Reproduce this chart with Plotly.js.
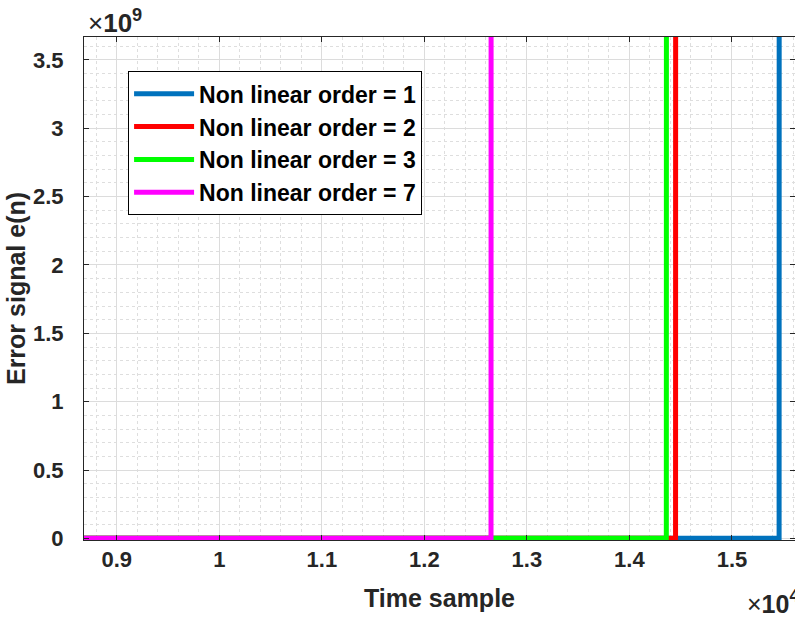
<!DOCTYPE html>
<html>
<head>
<meta charset="utf-8">
<script src="https://cdn.plot.ly/plotly-3.0.1.min.js"></script>
<style>html,body{margin:0;padding:0;background:#fff;}#chart{width:795px;height:621px;}</style>
</head>
<body>
<div id="chart"></div>
<script>
// Data (time sample, error signal)
const seriesNames = ['Non linear order = 1', 'Non linear order = 2', 'Non linear order = 3', 'Non linear order = 7'];
const seriesColors = ['#0072BD', '#FF0000', '#00FF00', '#FF00FF'];
const order1Samples = [1, 15460, 15461];
const order1Error = [0, 0, 5e9];
const order2Samples = [1, 14450, 14451];
const order2Error = [0, 0, 5e9];
const order3Samples = [1, 14360, 14361];
const order3Error = [0, 0, 5e9];
const order7Samples = [1, 12650, 12651];
const order7Error = [0, 0, 5e9];
const xTickVals = [9000, 10000, 11000, 12000, 13000, 14000, 15000];
const xTickText = ['0.9', '1', '1.1', '1.2', '1.3', '1.4', '1.5'];
const yTickVals = [0, 0.5e9, 1e9, 1.5e9, 2e9, 2.5e9, 3e9, 3.5e9];
const yTickText = ['0', '0.5', '1', '1.5', '2', '2.5', '3', '3.5'];

const xs = [order1Samples, order2Samples, order3Samples, order7Samples];
const ys = [order1Error, order2Error, order3Error, order7Error];

const traces = xs.map((x, i) => ({
  x: x, y: ys[i], type: 'scatter', mode: 'lines', name: seriesNames[i],
  line: {color: seriesColors[i], width: 5, shape: 'linear'}
}));

const FAM = 'Liberation Sans, Arial, sans-serif';
const axisColor = '#262626';
const tickFont = {family: FAM, size: 22, color: axisColor, weight: 'bold'};

const layout = {
  width: 795, height: 621,
  margin: {l: 84, r: 0, t: 37, b: 81},
  paper_bgcolor: '#fff', plot_bgcolor: '#fff',
  showlegend: true,
  legend: {
    x: 0.062, y: 0.932, xanchor: 'left', yanchor: 'top',
    bgcolor: '#fff', bordercolor: '#000', borderwidth: 1,
    font: {family: FAM, size: 23, color: '#000', weight: 'bold'},
    itemwidth: 60, tracegroupgap: 0
  },
  xaxis: {
    range: [8680, 15615], tickvals: xTickVals, ticktext: xTickText,
    ticks: 'inside', ticklen: 5, tickcolor: axisColor, tickwidth: 1,
    showline: true, linecolor: axisColor, linewidth: 1, mirror: 'ticks',
    showgrid: true, gridcolor: '#dcdcdc', gridwidth: 1, zeroline: false,
    minor: {dtick: 200, showgrid: true, gridcolor: '#dedede', griddash: '3px,3px', gridwidth: 1, ticks: ''},
    tickfont: tickFont, ticklabelposition: 'outside',
    title: {text: 'Time sample', font: {family: FAM, size: 25, color: axisColor, weight: 'bold'}, standoff: 18}
  },
  yaxis: {
    range: [-0.012e9, 3.668e9], tickvals: yTickVals, ticktext: yTickText,
    ticks: 'inside', ticklen: 5, tickcolor: axisColor, tickwidth: 1,
    showline: true, linecolor: axisColor, linewidth: 1, mirror: 'ticks',
    showgrid: true, gridcolor: '#dcdcdc', gridwidth: 1, zeroline: false,
    minor: {dtick: 1e8, showgrid: true, gridcolor: '#dedede', griddash: '3px,3px', gridwidth: 1, ticks: ''},
    tickfont: tickFont, ticklabelposition: 'outside', ticklabelstandoff: 15,
    title: {text: 'Error signal e(n)', font: {family: FAM, size: 25, color: axisColor, weight: 'bold'}, standoff: 0}
  },
  annotations: [
    {text: '×<b>10</b><sup><b>9</b></sup>', xref: 'paper', yref: 'paper', x: 0.003, y: 1.03, xanchor: 'left', yanchor: 'middle',
     showarrow: false, font: {family: FAM, size: 26, color: axisColor}},
    {text: '×<b>10</b><sup><b>4</b></sup>', xref: 'paper', yref: 'paper', x: 0.93, y: -0.124, xanchor: 'left', yanchor: 'middle',
     showarrow: false, font: {family: FAM, size: 25, color: axisColor}}
  ]
};

Plotly.newPlot('chart', traces, layout, {displayModeBar: false, staticPlot: true});
</script>
</body>
</html>
